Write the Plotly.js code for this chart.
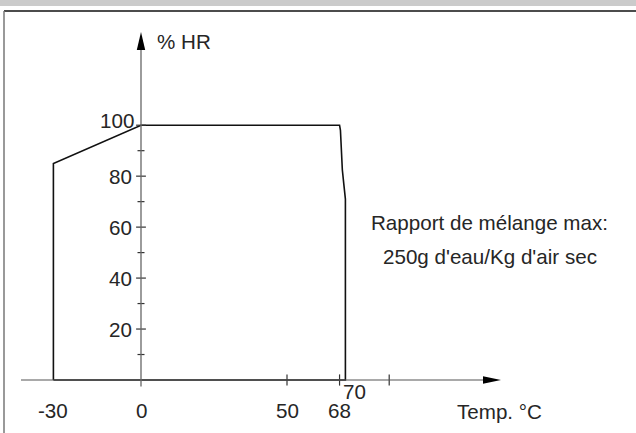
<!DOCTYPE html>
<html>
<head>
<meta charset="utf-8">
<script src="https://cdn.plot.ly/plotly-3.0.1.min.js"></script>
<style>html,body{margin:0;padding:0;background:#fff;}#chart{width:636px;height:433px;}</style>
</head>
<body>
<div id="chart"></div>
<script>
// ---- data ----
const envelopeTemp = [-30, -30, 0, 68, 68.3, 68.5, 68.7, 68.95, 69.45, 70, 70, -30];
const envelopeHR   = [0, 85, 100, 100, 98, 93, 87.5, 82.5, 77, 71, 0, 0];
const tempLabelVals = [-30, 0, 50, 68];
const tempLabelText = ['-30', '0', '50', '68'];
const tempEndVal = 70;
const tempTickVals = [50, 68, 85];
const hrMajorTicks = [20, 40, 60, 80, 100];
const hrMinorTicks = [10, 30, 50, 70, 90];
const hrLabelText = ['20', '40', '60', '80', '100'];
const yTitle = '% HR';
const xTitle = 'Temp. °C';
const noteLines = ['Rapport de mélange max:', "250g d'eau/Kg d'air sec"];

// ---- layout geometry ----
const W = 636, H = 433;
const xPx0 = 141, xScale = 2.92;   // px of 0°C, px per °C
const yPx0 = 380, yScale = 2.548;  // px of 0%, px per %
const xr = [-xPx0 / xScale, (W - xPx0) / xScale];
const yr = [-(H - yPx0) / yScale, yPx0 / yScale];
const dx = p => p / xScale, dy = p => p / yScale;

const FONT = 'Liberation Sans, Arial, Helvetica, sans-serif';
const TXT = '#262626';
const FS = 20.6;

const traces = [
  {x: envelopeTemp, y: envelopeHR, mode: 'lines', line: {color: '#111', width: 1.6}, cliponaxis: false, hoverinfo: 'skip'},
  {x: tempTickVals, y: tempTickVals.map(() => 0), mode: 'markers', cliponaxis: false, hoverinfo: 'skip',
   marker: {symbol: 'line-ns', size: 8, line: {color: '#333', width: 1.2}}},
  {x: hrMajorTicks.map(() => 0), y: hrMajorTicks, mode: 'markers', cliponaxis: false, hoverinfo: 'skip',
   marker: {symbol: 'line-ew', size: 7, line: {color: '#333', width: 1.2}}},
  {x: hrMinorTicks.map(() => 0), y: hrMinorTicks, mode: 'markers', cliponaxis: false, hoverinfo: 'skip',
   marker: {symbol: 'line-ew', size: 5, line: {color: '#333', width: 1.2}}}
];

// axis lines and arrows (decoration)
const xAxisStart = -dx(120), xAxisTip = dx(360), xArrowLen = dx(18), xArrowHalf = dy(3.8);
const yAxisBottom = -dy(6.5), yAxisTip = dy(348), yArrowLen = dy(18), yArrowHalf = dx(4.2);

const shapes = [
  {type: 'rect', xref: 'paper', yref: 'paper', x0: 0, x1: 1, y0: 1 - 6 / H, y1: 1, fillcolor: '#cbcbcb', line: {width: 0}},
  {type: 'line', xref: 'paper', yref: 'paper', x0: 4 / W, x1: 1, y0: 1 - 11 / H, y1: 1 - 11 / H, line: {color: '#111', width: 1.5}},
  {type: 'line', xref: 'paper', yref: 'paper', x0: 4 / W, x1: 4 / W, y0: 0, y1: 1 - 11 / H, line: {color: '#777', width: 1.5}},
  {type: 'line', xref: 'x', yref: 'y', x0: xAxisStart, x1: xAxisTip - xArrowLen, y0: 0, y1: 0, line: {color: '#555', width: 1.2}},
  {type: 'path', xref: 'x', yref: 'y', path: `M${xAxisTip},0 L${xAxisTip - xArrowLen},${xArrowHalf} L${xAxisTip - xArrowLen},${-xArrowHalf} Z`, fillcolor: '#000', line: {width: 0}},
  {type: 'line', xref: 'x', yref: 'y', x0: 0, x1: 0, y0: yAxisBottom, y1: yAxisTip - yArrowLen, line: {color: '#666', width: 1.3}},
  {type: 'path', xref: 'x', yref: 'y', path: `M0,${yAxisTip} L${yArrowHalf},${yAxisTip - yArrowLen} L${-yArrowHalf},${yAxisTip - yArrowLen} Z`, fillcolor: '#000', line: {width: 0}}
];

const font = {family: FONT, size: FS, color: TXT};
const annotations = [];
hrMajorTicks.forEach((v, i) => {
  annotations.push({x: 0, y: v, xref: 'x', yref: 'y', text: hrLabelText[i], showarrow: false, font,
    xanchor: 'right', yanchor: 'middle', xshift: v === 100 ? -5 : -7, yshift: v === 100 ? 5 : 0});
});
tempLabelVals.forEach((v, i) => {
  annotations.push({x: v, y: 0, xref: 'x', yref: 'y', text: tempLabelText[i], showarrow: false, font,
    xanchor: 'center', yanchor: 'middle', yshift: -30});
});
annotations.push({x: tempEndVal, y: 0, xref: 'x', yref: 'y', text: String(tempEndVal), showarrow: false, font,
  xanchor: 'center', yanchor: 'middle', xshift: 9, yshift: -11});
annotations.push({x: 155 / W, y: 1 - 41.5 / H, xref: 'paper', yref: 'paper', text: yTitle, showarrow: false, font,
  xanchor: 'left', yanchor: 'middle'});
annotations.push({x: 499 / W, y: 1 - 411 / H, xref: 'paper', yref: 'paper', text: xTitle, showarrow: false, font,
  xanchor: 'center', yanchor: 'middle'});
annotations.push({x: 489.5 / W, y: 1 - 222 / H, xref: 'paper', yref: 'paper', text: noteLines[0], showarrow: false, font,
  xanchor: 'center', yanchor: 'middle'});
annotations.push({x: 489.5 / W, y: 1 - 256 / H, xref: 'paper', yref: 'paper', text: noteLines[1], showarrow: false, font,
  xanchor: 'center', yanchor: 'middle'});

const layout = {
  width: W, height: H,
  margin: {l: 0, r: 0, t: 0, b: 0, pad: 0},
  paper_bgcolor: '#fff', plot_bgcolor: '#fff',
  showlegend: false,
  xaxis: {range: xr, visible: false, fixedrange: true},
  yaxis: {range: yr, visible: false, fixedrange: true},
  shapes, annotations
};

Plotly.newPlot('chart', traces, layout, {displayModeBar: false, staticPlot: true});
</script>
</body>
</html>
